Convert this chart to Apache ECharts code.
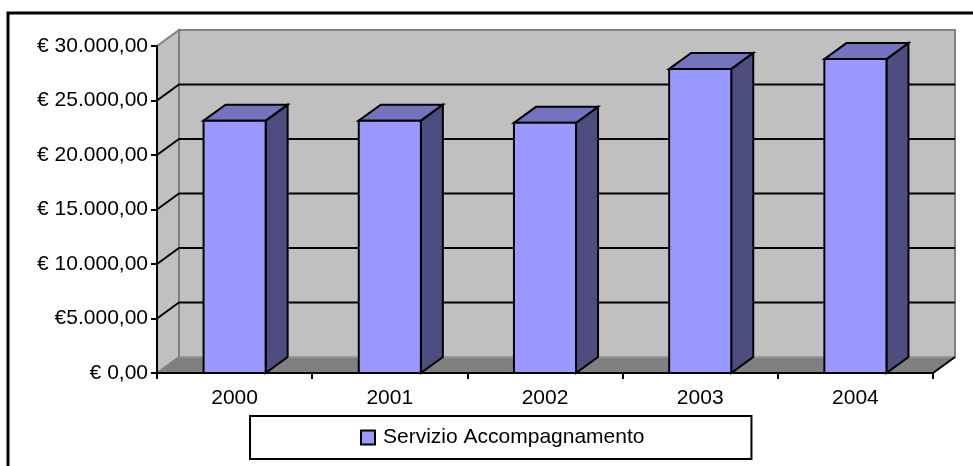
<!DOCTYPE html>
<html>
<head>
<meta charset="utf-8">
<script src="https://cdn.jsdelivr.net/npm/echarts@6/dist/echarts.min.js"></script>
<style>
  html, body { margin: 0; padding: 0; background: #fff; }
  #chart { width: 973px; height: 466px; }
</style>
</head>
<body>
<div id="chart"></div>
<script>
const years = ['2000', '2001', '2002', '2003', '2004'];
const values = [23150, 23150, 22950, 27900, 28800];
const yTickValues = [0, 5000, 10000, 15000, 20000, 25000, 30000];
const yTickLabels = ['€ 0,00', '€5.000,00', '€ 10.000,00', '€ 15.000,00', '€ 20.000,00', '€ 25.000,00', '€ 30.000,00'];
const seriesName = 'Servizio Accompagnamento';

// depth offset of the fake 3D box
const DX = 22;
const DY = -16;
const FONT = '"Liberation Sans", Arial, sans-serif';

const chart = echarts.init(document.getElementById('chart'));

// back wall, side wall, floor and the gridlines drawn on them
function renderWalls(params, api) {
  const cs = params.coordSys;
  const x0 = cs.x, x1 = cs.x + cs.width;
  const yTop = api.coord([0, yTickValues[yTickValues.length - 1]])[1];
  const yBot = api.coord([0, 0])[1];
  const children = [];

  children.push({
    type: 'rect',
    shape: { x: x0 + DX, y: yTop + DY, width: x1 - x0, height: yBot - yTop },
    style: { fill: '#c0c0c0', stroke: '#808080', lineWidth: 2 }
  });
  children.push({
    type: 'polygon',
    shape: { points: [[x0, yTop], [x0 + DX, yTop + DY], [x0 + DX, yBot + DY], [x0, yBot]] },
    style: { fill: '#c0c0c0', stroke: '#808080', lineWidth: 2 }
  });
  children.push({
    type: 'polygon',
    shape: { points: [[x0, yBot], [x1, yBot], [x1 + DX, yBot + DY], [x0 + DX, yBot + DY]] },
    style: { fill: '#808080', stroke: null }
  });
  children.push({
    type: 'line',
    shape: { x1: x0 + DX, y1: yBot + DY, x2: x1 + DX, y2: yBot + DY },
    style: { stroke: '#a0a0a0', lineWidth: 1.5 }
  });
  children.push({
    type: 'line',
    shape: { x1: x1, y1: yBot, x2: x1 + DX, y2: yBot + DY },
    style: { stroke: '#000', lineWidth: 2 }
  });

  yTickValues.forEach(function (v, i) {
    if (i === 0 || i === yTickValues.length - 1) return;
    const y = api.coord([0, v])[1];
    children.push({
      type: 'polyline',
      shape: { points: [[x0, y], [x0 + DX, y + DY], [x1 + DX, y + DY]] },
      style: { stroke: '#000', lineWidth: 2, fill: null }
    });
  });

  return { type: 'group', children: children };
}

function renderBar(params, api) {
  const top = api.coord([api.value(0), api.value(1)]);
  const base = api.coord([api.value(0), 0]);
  const w = api.size([1, 0])[0] * 0.4;
  const l = top[0] - w / 2, r = top[0] + w / 2;
  const t = top[1], b = base[1];
  const edge = { stroke: '#000', lineWidth: 2, lineJoin: 'miter' };
  return {
    type: 'group',
    children: [
      {
        type: 'polygon',
        shape: { points: [[r, t], [r + DX, t + DY], [r + DX, b + DY], [r, b]] },
        style: Object.assign({ fill: '#4d4d80' }, edge)
      },
      {
        type: 'polygon',
        shape: { points: [[l, t], [l + DX, t + DY], [r + DX, t + DY], [r, t]] },
        style: Object.assign({ fill: '#7373bf' }, edge)
      },
      {
        type: 'rect',
        shape: { x: l, y: t, width: w, height: b - t },
        style: Object.assign({ fill: '#9999ff' }, edge)
      }
    ]
  };
}

const option = {
  backgroundColor: '#fff',
  animation: false,
  textStyle: { fontFamily: FONT },
  grid: { left: 157, right: 40, top: 46, bottom: 93 },
  legend: {
    data: [seriesName],
    left: 250,
    top: 416,
    padding: [11, 107, 11, 110],
    borderColor: '#000',
    borderWidth: 2,
    icon: 'rect',
    itemWidth: 14,
    itemHeight: 14,
    itemGap: 0,
    itemStyle: { borderColor: '#000', borderWidth: 2 },
    textStyle: { fontFamily: FONT, fontSize: 21, color: '#000', padding: [0, 0, 0, 3] },
    selectedMode: false
  },
  xAxis: {
    type: 'category',
    data: years,
    z: 10,
    axisLine: { lineStyle: { color: '#000', width: 2 } },
    axisTick: { show: true, length: 6, lineStyle: { color: '#000', width: 2 } },
    axisLabel: { color: '#000', fontSize: 21, fontFamily: FONT, margin: 15 },
    splitLine: { show: false }
  },
  yAxis: {
    type: 'value',
    min: 0,
    max: 30000,
    interval: 5000,
    z: 10,
    axisLine: { show: true, lineStyle: { color: '#000', width: 2 } },
    axisTick: { show: true, length: 6, lineStyle: { color: '#000', width: 2 } },
    axisLabel: {
      color: '#000',
      fontSize: 21,
      fontFamily: FONT,
      margin: 9,
      formatter: function (v) { return yTickLabels[yTickValues.indexOf(v)]; }
    },
    splitLine: { show: false }
  },
  graphic: [
    {
      type: 'rect',
      shape: { x: 8, y: 13, width: 1000, height: 500 },
      style: { fill: null, stroke: '#000', lineWidth: 3 },
      z: 100
    }
  ],
  series: [
    {
      type: 'custom',
      name: 'walls',
      z: 1,
      silent: true,
      renderItem: renderWalls,
      data: [[0, 0]]
    },
    {
      type: 'custom',
      name: seriesName,
      z: 5,
      itemStyle: { color: '#9999ff' },
      renderItem: renderBar,
      encode: { x: 0, y: 1 },
      data: years.map(function (y, i) { return [i, values[i]]; })
    }
  ]
};

chart.setOption(option);
</script>
</body>
</html>
